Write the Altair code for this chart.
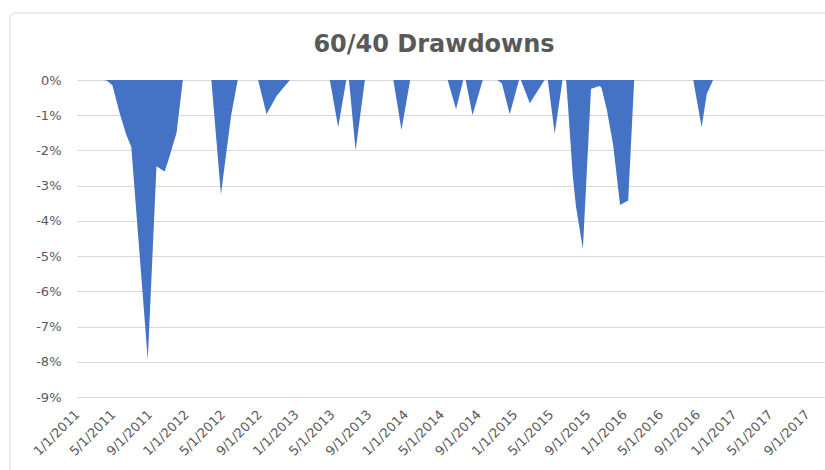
import altair as alt
import pandas as pd

# Drawdown series (percent)
dates = [
    "2011-01-01", "2011-04-01", "2011-04-11", "2011-04-29", "2011-05-22", "2011-06-14",
    "2011-07-01", "2011-08-25", "2011-09-23", "2011-10-20", "2011-11-01", "2011-11-29",
    "2011-12-20",
    "2012-03-24", "2012-04-25", "2012-05-29", "2012-06-20",
    "2012-08-27", "2012-09-24", "2012-10-28", "2012-12-11",
    "2013-04-23", "2013-05-21", "2013-06-17",
    "2013-06-26", "2013-07-18", "2013-08-18",
    "2013-11-21", "2013-12-18", "2014-01-16",
    "2014-05-21", "2014-06-18", "2014-07-12",
    "2014-07-20", "2014-08-12", "2014-09-15",
    "2014-11-03", "2014-11-18", "2014-12-14", "2015-01-14",
    "2015-01-20", "2015-02-19", "2015-04-09",
    "2015-04-20", "2015-05-13", "2015-06-08",
    "2015-06-20", "2015-06-26", "2015-07-12", "2015-07-23", "2015-08-15", "2015-09-11",
    "2015-10-10",
    "2015-10-16", "2015-11-03", "2015-11-24", "2015-12-17", "2016-01-13", "2016-02-02",
    "2016-08-17", "2016-09-14", "2016-10-01", "2016-10-22",
    "2017-10-27",
]
drawdown_pct = [
    0.0, 0.0, -0.02, -0.15, -0.9, -1.55,
    -1.9, -7.95, -2.45, -2.6, -2.3, -1.5,
    0.0,
    0.0, -3.25, -1.0, 0.0,
    0.0, -0.97, -0.45, 0.0,
    0.0, -1.34, 0.0,
    0.0, -2.0, 0.0,
    0.0, -1.42, 0.0,
    0.0, -0.83, 0.0,
    0.0, -1.0, 0.0,
    0.0, -0.1, -0.97, 0.0,
    0.0, -0.66, 0.0,
    0.0, -1.52, 0.0,
    0.0, -0.7, -2.7, -3.6, -4.8, -0.25,
    -0.17,
    -0.22, -0.85, -1.85, -3.55, -3.42, 0.0,
    0.0, -1.34, -0.4, 0.0,
    0.0,
]

# Axis tick labels
tick_dates = [(y, m) for y in range(2011, 2018) for m in (1, 5, 9)]
y_ticks = [0, -1, -2, -3, -4, -5, -6, -7, -8, -9]

df = pd.DataFrame({"date": dates, "drawdown": drawdown_pct})

FONT = "DejaVu Sans"
GRAY = "#595959"

area = alt.Chart(df).mark_area(color="#4472C4", opacity=1).encode(
    x=alt.X(
        "date:T",
        scale=alt.Scale(
            type="utc",
            domain=[alt.DateTime(year=2011, month=1, date=1, utc=True),
                    alt.DateTime(year=2017, month=10, date=27, utc=True)],
        ),
        axis=alt.Axis(
            title=None,
            values=[alt.DateTime(year=y, month=m, date=1, utc=True) for y, m in tick_dates],
            labelExpr="utcFormat(datum.value, '%-m/%-d/%Y')",
            labelAngle=-45,
            labelAlign="right",
            labelBaseline="middle",
            labelFont=FONT,
            labelFontSize=13,
            labelColor=GRAY,
            labelPadding=15,
            labelOverlap=False,
            labelBound=False,
            labelFlush=False,
            ticks=False,
            domain=False,
            grid=False,
        ),
    ),
    y=alt.Y(
        "drawdown:Q",
        scale=alt.Scale(domain=[-9, 0], nice=False),
        axis=alt.Axis(
            title=None,
            values=y_ticks,
            labelExpr="datum.value == 0 ? '0%' : '-' + abs(datum.value) + '%'",
            labelFont=FONT,
            labelFontSize=13,
            labelColor=GRAY,
            labelPadding=16,
            ticks=False,
            domain=False,
            grid=True,
            gridColor="#D9D9D9",
            gridWidth=1,
        ),
    ),
)

frame = alt.Chart(pd.DataFrame({"k": [0]})).mark_rect(
    fill=None, stroke="#D9D9D9", strokeWidth=1, cornerRadius=4
).encode(
    x=alt.value(-67), x2=alt.value(780), y=alt.value(-67), y2=alt.value(420)
)

title_text = alt.Chart(pd.DataFrame({"t": ["60/40 Drawdowns"]})).mark_text(
    font=FONT, fontSize=24, fontWeight="bold", color=GRAY,
    align="center", baseline="alphabetic",
).encode(
    text="t:N", x=alt.value(357), y=alt.value(-28)
)

chart = alt.layer(frame, area, title_text).properties(
    width=747,
    height=317,
    autosize=alt.AutoSizeParams(type="none"),
    padding={"left": 77, "top": 80, "right": 1, "bottom": 73},
    background="white",
).configure_view(strokeWidth=0)

chart.save("out.html", embed_options={"renderer": "svg", "actions": False})
